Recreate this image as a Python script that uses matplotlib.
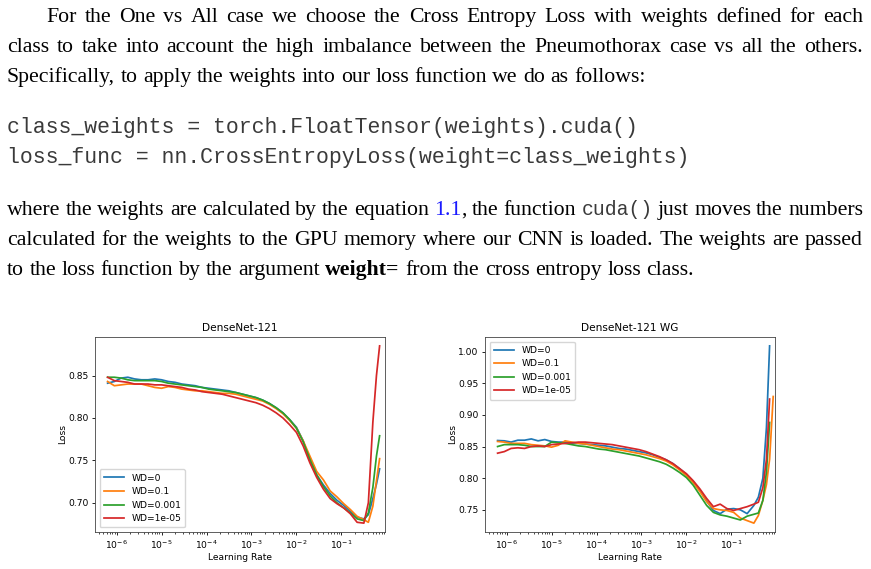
import matplotlib
matplotlib.use("Agg")
import matplotlib.pyplot as plt
import numpy as np
from matplotlib.ticker import FormatStrFormatter

nan = float("nan")

# ---- data ------------------------------------------------------------------
log_lr = [-6.2, -6.05, -5.9, -5.75, -5.6, -5.45, -5.3, -5.15, -5.0, -4.85,
          -4.7, -4.55, -4.4, -4.25, -4.1, -3.95, -3.8, -3.65, -3.5, -3.35,
          -3.2, -3.05, -2.9, -2.75, -2.6, -2.45, -2.3, -2.15, -2.0, -1.85,
          -1.7, -1.55, -1.4, -1.25, -1.1, -0.95, -0.8, -0.65, -0.5, -0.4,
          -0.3, -0.22, -0.15, -0.07]

labels = ["WD=0", "WD=0.1", "WD=0.001", "WD=1e-05"]

dn_wd0 = [0.841, 0.843, 0.847, 0.848, 0.846, 0.845, 0.845, 0.846, 0.845, 0.843,
          0.842, 0.840, 0.839, 0.838, 0.836, 0.835, 0.834, 0.833, 0.832, 0.830,
          0.828, 0.826, 0.824, 0.821, 0.817, 0.812, 0.806, 0.798, 0.789, 0.773,
          0.750, 0.733, 0.721, 0.711, 0.703, 0.697, 0.690, 0.683, 0.681, 0.686,
          0.705, 0.722, 0.740, nan]
dn_wd01 = [0.843, 0.838, 0.839, 0.840, 0.840, 0.840, 0.838, 0.836, 0.835, 0.837,
           0.836, 0.834, 0.833, 0.832, 0.832, 0.831, 0.830, 0.829, 0.829, 0.828,
           0.826, 0.824, 0.822, 0.820, 0.816, 0.811, 0.805, 0.797, 0.788, 0.773,
           0.755, 0.737, 0.727, 0.714, 0.707, 0.699, 0.692, 0.684, 0.680, 0.677,
           0.696, 0.726, 0.752, nan]
dn_wd0001 = [0.848, 0.848, 0.847, 0.845, 0.844, 0.844, 0.844, 0.844, 0.843, 0.841,
             0.840, 0.839, 0.838, 0.837, 0.836, 0.834, 0.833, 0.832, 0.831, 0.830,
             0.828, 0.826, 0.824, 0.821, 0.817, 0.812, 0.806, 0.798, 0.788, 0.772,
             0.751, 0.733, 0.719, 0.708, 0.700, 0.694, 0.688, 0.681, 0.679, 0.688,
             0.718, 0.755, 0.779, nan]
dn_wd1e5 = [0.848, 0.844, 0.843, 0.842, 0.840, 0.840, 0.840, 0.839, 0.839, 0.838,
            0.837, 0.836, 0.834, 0.833, 0.831, 0.830, 0.829, 0.828, 0.826, 0.824,
            0.822, 0.820, 0.818, 0.815, 0.811, 0.806, 0.800, 0.792, 0.783, 0.767,
            0.747, 0.730, 0.716, 0.705, 0.699, 0.694, 0.687, 0.677, 0.676, 0.700,
            0.795, 0.850, 0.885, nan]

wg_wd0 = [0.8595, 0.859, 0.857, 0.860, 0.860, 0.862, 0.859, 0.861, 0.858, 0.857,
          0.857, 0.855, 0.855, 0.854, 0.853, 0.852, 0.851, 0.849, 0.847, 0.846,
          0.844, 0.842, 0.840, 0.837, 0.833, 0.829, 0.823, 0.815, 0.806, 0.795,
          0.781, 0.764, 0.749, 0.744, 0.751, 0.752, 0.750, 0.744, 0.757, 0.770,
          0.800, 0.880, 1.009, nan]
wg_wd01 = [0.858, 0.857, 0.855, 0.855, 0.855, 0.853, 0.852, 0.851, 0.849, 0.852,
           0.859, 0.857, 0.855, 0.854, 0.852, 0.850, 0.848, 0.846, 0.845, 0.843,
           0.841, 0.839, 0.837, 0.834, 0.831, 0.827, 0.821, 0.813, 0.804, 0.793,
           0.779, 0.763, 0.752, 0.750, 0.749, 0.746, 0.737, 0.733, 0.729, 0.741,
           0.765, 0.790, 0.830, 0.929]
wg_wd0001 = [0.850, 0.853, 0.853, 0.853, 0.852, 0.850, 0.850, 0.850, 0.857, 0.856,
             0.855, 0.853, 0.851, 0.850, 0.848, 0.846, 0.845, 0.843, 0.841, 0.839,
             0.837, 0.835, 0.832, 0.829, 0.826, 0.822, 0.816, 0.809, 0.801, 0.789,
             0.773, 0.757, 0.746, 0.742, 0.740, 0.737, 0.734, 0.740, 0.743, 0.745,
             0.765, 0.810, 0.888, nan]
wg_wd1e5 = [0.8395, 0.842, 0.847, 0.848, 0.847, 0.850, 0.851, 0.850, 0.853, 0.854,
            0.855, 0.856, 0.857, 0.857, 0.856, 0.855, 0.854, 0.853, 0.851, 0.849,
            0.847, 0.845, 0.842, 0.838, 0.834, 0.829, 0.823, 0.815, 0.807, 0.796,
            0.783, 0.768, 0.755, 0.759, 0.752, 0.749, 0.752, 0.755, 0.759, 0.762,
            0.785, 0.830, 0.925, nan]

dn_yticks = [0.70, 0.75, 0.80, 0.85]
wg_yticks = [0.75, 0.80, 0.85, 0.90, 0.95, 1.00]

# ---- page ------------------------------------------------------------------
W, H = 871, 569
fig = plt.figure(figsize=(W / 100, H / 100), dpi=100)
rend = fig.canvas.get_renderer()

SERIF = "Liberation Serif"
MONO = "Liberation Mono"
CODE_COLOR = "#3a3a3a"


def text_width(s, **kw):
    t = fig.text(0, 0, s, **kw)
    w = t.get_window_extent(rend).width
    t.remove()
    return w


# font sizes picked so that the unjustified lines have the right length
rm_size = 10 * 637 / text_width(
    "Specifically, to apply the weights into our loss function we do as follows:",
    family=SERIF, fontsize=10)
code_1 = "class_weights = torch.FloatTensor(weights).cuda()"
code_2 = "loss_func = nn.CrossEntropyLoss(weight=class_weights)"
tt_size = 10 * 636 / text_width(code_1, family=MONO, fontsize=10)

STYLES = {
    "rm": dict(family=SERIF, fontsize=rm_size, color="black"),
    "bf": dict(family=SERIF, fontsize=rm_size, color="black", fontweight="bold"),
    "link": dict(family=SERIF, fontsize=rm_size, color="#1a1aff"),
    "tt": dict(family=MONO, fontsize=tt_size * 0.92, color=CODE_COLOR),
}
space_px = 0.25 * rm_size * 100 / 72


def words(s, style="rm"):
    return [[(w, style)] for w in s.split()]


def set_line(wlist, x0, y, x1=None):
    # y is an integer pixel baseline (avoids half-pixel rounding jitter)
    placed = []
    for word in wlist:
        parts = []
        for s, style in word:
            t = fig.text(0, (H - y + 0.2) / H, s, va="baseline", ha="left", **STYLES[style])
            parts.append((t, t.get_window_extent(rend).width))
        placed.append(parts)
    total = sum(w for p in placed for _, w in p)
    gap = space_px if x1 is None else (x1 - x0 - total) / (len(wlist) - 1)
    x = x0
    for parts in placed:
        for t, w in parts:
            t.set_x(x / W)
            x += w
        x += gap


set_line(words("For the One vs All case we choose the Cross Entropy Loss with weights defined for each"),
         46, 22, 863)
set_line(words("class to take into account the high imbalance between the Pneumothorax case vs all the others."),
         7, 52, 863)
set_line(words("Specifically, to apply the weights into our loss function we do as follows:"), 7, 82)

fig.text(7 / W, (H - 133 + 0.2) / H, code_1, va="baseline", family=MONO, fontsize=tt_size, color=CODE_COLOR)
fig.text(7 / W, (H - 163 + 0.2) / H, code_2, va="baseline", family=MONO, fontsize=tt_size, color=CODE_COLOR)

set_line(words("where the weights are calculated by the equation")
         + [[("1.1", "link"), (",", "rm")]]
         + words("the function") + [[("cuda()", "tt")]]
         + words("just moves the numbers"), 7, 215, 863)
set_line(words("calculated for the weights to the GPU memory where our CNN is loaded. The weights are passed"),
         7, 245, 863)
set_line(words("to the loss function by the argument") + [[("weight=", "bf")]]
         + words("from the cross entropy loss class."), 7, 275)

# ---- the two lr-finder plots -----------------------------------------------
lr = 10 ** np.array(log_lr)
fs = 6.6


def lr_panel(left_px, title, series, yticks, legend_loc):
    ax = fig.add_axes([left_px / W, 1 - 532 / H, 290 / W, 195 / H])
    for vals, lab in zip(series, labels):
        ax.plot(lr, vals, lw=1.25, label=lab)
    ax.set_xscale("log")
    ax.set_xlim(10 ** -6.48, 10 ** -0.03)
    ax.set_yticks(yticks)
    ax.yaxis.set_major_formatter(FormatStrFormatter("%.2f"))
    ax.set_title(title, fontsize=7.6, pad=4)
    ax.set_xlabel("Learning Rate", fontsize=fs, labelpad=2)
    ax.set_ylabel("Loss", fontsize=fs, labelpad=1)
    ax.tick_params(labelsize=fs, length=2.5, width=0.6, pad=2)
    ax.tick_params(which="minor", length=1.5, width=0.5)
    for sp in ax.spines.values():
        sp.set_linewidth(0.6)
        sp.set_color("#444444")
    ax.legend(loc=legend_loc, fontsize=fs, handlelength=2.2, borderpad=0.45,
              labelspacing=0.5, framealpha=0.8)
    return ax


lr_panel(95, "DenseNet-121", [dn_wd0, dn_wd01, dn_wd0001, dn_wd1e5], dn_yticks, "lower left")
lr_panel(485, "DenseNet-121 WG", [wg_wd0, wg_wd01, wg_wd0001, wg_wd1e5], wg_yticks, "upper left")

fig.savefig("out.png", dpi=100)
